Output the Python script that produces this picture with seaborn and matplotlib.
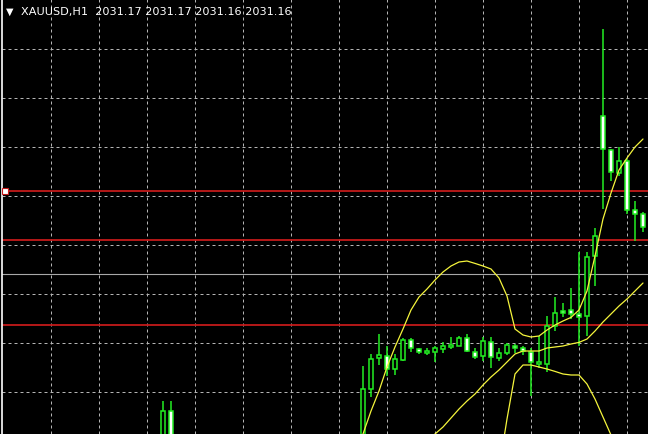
import numpy as np
import pandas as pd
import matplotlib
matplotlib.use("Agg")
import matplotlib.pyplot as plt
import seaborn as sns

# header of the chart window
symbol = "XAUUSD,H1"
last_ohlc = ["2031.17", "2031.17", "2031.16", "2031.16"]

# bar numbers of candles on screen (bars 2..24 are below the window)
bar_idx = [0, 1] + list(range(25, 61))
opens = [2020.06, 2021.98,
         2020.06, 2023.06, 2024.61, 2024.73, 2024.06, 2024.53, 2025.51, 2025.06,
         2024.88, 2024.91, 2025.06, 2025.16, 2025.23, 2025.61, 2024.93, 2024.71,
         2025.43, 2024.61, 2024.86, 2025.23, 2025.11, 2024.89, 2024.31, 2024.31,
         2026.21, 2026.98, 2027.01, 2026.81, 2026.71, 2029.71, 2036.71, 2035.03,
         2033.86, 2034.48, 2032.03, 2031.81]
highs = [2022.48, 2022.48,
         2024.22, 2024.81, 2025.79, 2025.23, 2024.81, 2025.61, 2025.60, 2025.11,
         2025.11, 2025.21, 2025.41, 2025.66, 2025.71, 2025.81, 2025.11, 2025.66,
         2025.66, 2025.11, 2025.36, 2025.31, 2025.23, 2025.11, 2025.71, 2026.73,
         2027.66, 2027.36, 2028.11, 2029.91, 2029.91, 2031.11, 2041.06, 2035.06,
         2035.16, 2034.56, 2032.48, 2031.91]
lows = [2019.56, 2019.56,
        2019.81, 2022.66, 2024.26, 2023.73, 2023.76, 2024.46, 2024.91, 2024.81,
        2024.76, 2024.41, 2024.86, 2025.06, 2025.21, 2024.91, 2024.56, 2024.48,
        2024.11, 2024.48, 2024.76, 2024.86, 2024.76, 2022.73, 2024.11, 2023.91,
        2025.98, 2026.66, 2026.56, 2025.23, 2025.71, 2028.23, 2032.06, 2033.48,
        2033.73, 2031.81, 2030.48, 2030.91]
closes = [2021.95, 2020.06,
          2023.06, 2024.56, 2024.76, 2024.06, 2024.56, 2025.51, 2025.11, 2024.90,
          2024.96, 2025.11, 2025.23, 2025.26, 2025.61, 2024.96, 2024.66, 2025.46,
          2024.66, 2024.86, 2025.28, 2025.10, 2024.98, 2024.41, 2024.39, 2026.23,
          2026.86, 2026.86, 2026.81, 2026.66, 2029.66, 2030.71, 2035.06, 2033.91,
          2034.48, 2032.03, 2031.81, 2031.16]

# Bollinger bands, read per bar
upper_idx = list(range(24, 61))
upper_band = [2019.66, 2020.81, 2021.96, 2022.96, 2024.16, 2025.16, 2026.06, 2027.01,
              2027.66, 2028.06, 2028.51, 2028.91, 2029.21, 2029.41, 2029.46, 2029.34,
              2029.21, 2029.06, 2028.61, 2027.71, 2026.06, 2025.76, 2025.66, 2025.71,
              2026.01, 2026.26, 2026.46, 2026.64, 2027.01, 2027.96, 2029.71, 2031.56,
              2032.86, 2034.01, 2034.61, 2035.16, 2035.56]
middle_idx = list(range(33, 61))
middle_band = [2020.46, 2020.81, 2021.16, 2021.61, 2022.06, 2022.46, 2022.81, 2023.26,
               2023.66, 2024.01, 2024.41, 2024.81, 2024.96, 2024.96, 2024.96, 2025.11,
               2025.16, 2025.21, 2025.31, 2025.39, 2025.56, 2025.96, 2026.41, 2026.81,
               2027.21, 2027.56, 2027.96, 2028.36]
lower_idx = list(range(42, 58))
lower_band = [2019.06, 2021.56, 2023.81, 2024.26, 2024.26, 2024.16, 2024.06, 2023.94,
              2023.81, 2023.76, 2023.76, 2023.31, 2022.56, 2021.66, 2020.76, 2019.81]

# horizontal lines drawn on the chart
red_levels = [2032.96, 2030.51, 2026.26]
gray_levels = [2028.81]

# ---- layout / style ----
W, H = 648, 435
BAR_PX = 8          # pixels per bar
PX_PRICE = 0.05     # price per pixel
top_price = 2042.56
x_left = -20.125
green = "#22ee22"
grid_col = "#b4b4b4"

sns.set_style("dark", {"axes.facecolor": "black", "figure.facecolor": "black",
                       "axes.grid": False})
plt.rcParams["font.family"] = ["DejaVu Sans"]

fig = plt.figure(figsize=(W / 100, H / 100), dpi=100, facecolor="black")
ax = fig.add_axes([2 / W, 0, (W - 2) / W, 1])
ax.set_facecolor("black")
ax.set_xlim(x_left, x_left + (W - 2) / BAR_PX)
ax.set_ylim(top_price - H * PX_PRICE, top_price)

# dashed grid (MT4 grid is fixed in pixels)
ax.set_xticks(np.arange(-14, 61, 6))
ax.set_yticks(top_price - PX_PRICE * (50 + 49 * np.arange(8)))
ax.grid(True, color=grid_col, linestyle=(0, (3, 3)), linewidth=0.72)
ax.set_axisbelow(True)
ax.tick_params(length=0, labelbottom=False, labelleft=False)
for s in ["top", "right", "bottom"]:
    ax.spines[s].set_visible(False)
ax.spines["left"].set_color("white")
ax.spines["left"].set_linewidth(1.2)

for lv in red_levels:
    ax.axhline(lv, color="#c41a1a", linewidth=1.3, zorder=1.5)
for lv in gray_levels:
    ax.axhline(lv, color="#a8a8a8", linewidth=0.8, zorder=1.5)

# candles
df = pd.DataFrame({"bar": bar_idx, "open": opens, "high": highs,
                   "low": lows, "close": closes})
bull = df["close"] >= df["open"]
ax.vlines(df["bar"], df["low"], df["high"], color=green, linewidth=1.1, zorder=2)
ax.bar(df["bar"], (df["close"] - df["open"]).abs(),
       bottom=df[["open", "close"]].min(axis=1), width=0.62,
       color=np.where(bull, "black", "white"), edgecolor=green,
       linewidth=1.1, zorder=3)

# bands
for xs, ys in [(upper_idx, upper_band), (middle_idx, middle_band), (lower_idx, lower_band)]:
    sns.lineplot(x=xs, y=ys, ax=ax, color="#f5f53c", linewidth=0.9, zorder=4)

# selected-line handle at the left edge
ax.plot([x_left + 3 / BAR_PX], [red_levels[0]], marker="s", markersize=3.8,
        markerfacecolor="white", markeredgecolor="#c41a1a", markeredgewidth=0.8,
        zorder=5, clip_on=False)

# header
fig.text(10 / W, 1 - 11.5 / H, "\u25bc", color="white", fontsize=7,
         ha="center", va="center")
fig.text(21 / W, 1 - 12 / H, symbol + "  " + " ".join(last_ohlc), color="white",
         fontsize=8.1, ha="left", va="center")

fig.savefig("out.png", dpi=100, facecolor="black")
